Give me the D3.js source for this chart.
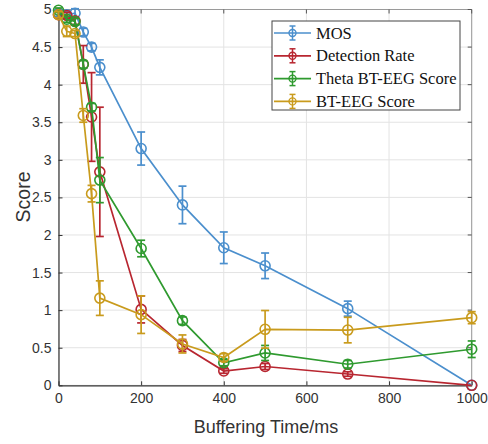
<!DOCTYPE html>
<html>
<head>
<meta charset="utf-8">
<script src="https://cdn.jsdelivr.net/npm/d3@7"></script>
<style>
body{margin:0;background:#fff;}
svg{display:block;}
</style>
</head>
<body>
<svg id="chart" width="488" height="444"></svg>
<script>
const xValues = [0, 20, 40, 60, 80, 100, 200, 300, 400, 500, 700, 1000];
const mosValues = [4.95, 4.93, 4.95, 4.70, 4.50, 4.23, 3.15, 2.40, 1.83, 1.59, 1.02, 0.00];
const mosErr    = [0.04, 0.04, 0.06, 0.05, 0.05, 0.10, 0.22, 0.25, 0.21, 0.17, 0.10, 0.00];
const detValues = [4.93, 4.92, 4.85, 4.27, 3.57, 2.84, 1.01, 0.53, 0.19, 0.25, 0.15, 0.00];
const detErr    = [0.04, 0.04, 0.05, 0.25, 0.59, 0.86, 0.18, 0.08, 0.03, 0.04, 0.03, 0.00];
const thetaValues = [4.99, 4.87, 4.84, 4.27, 3.70, 2.73, 1.82, 0.86, 0.30, 0.43, 0.28, 0.48];
const thetaErr    = [0.03, 0.04, 0.04, 0.05, 0.05, 0.30, 0.11, 0.05, 0.04, 0.10, 0.05, 0.11];
const btValues = [4.93, 4.71, 4.68, 3.59, 2.55, 1.16, 0.94, 0.55, 0.37, 0.745, 0.735, 0.90];
const btErr    = [0.04, 0.07, 0.04, 0.09, 0.11, 0.23, 0.25, 0.12, 0.05, 0.25, 0.17, 0.08];
const seriesNames = ["MOS", "Detection Rate", "Theta BT-EEG Score", "BT-EEG Score"];
const xTicks = [0, 200, 400, 600, 800, 1000];
const yTicks = [0, 0.5, 1, 1.5, 2, 2.5, 3, 3.5, 4, 4.5, 5];

const colors = ["#4b8fcd", "#b82630", "#2f9a2f", "#c99b1d"];
const series = [
  {name: seriesNames[0], v: mosValues, e: mosErr},
  {name: seriesNames[1], v: detValues, e: detErr},
  {name: seriesNames[2], v: thetaValues, e: thetaErr},
  {name: seriesNames[3], v: btValues, e: btErr}
];

const svg = d3.select("#chart");
const L = 58.5, R = 471.7, T = 9.5, B = 385.3;
const x = d3.scaleLinear().domain([0, 1000]).range([L, R]);
const y = d3.scaleLinear().domain([0, 5]).range([B, T]);

// grid
const g = svg.append("g");
g.selectAll(".gx").data(xTicks).join("line")
  .attr("x1", d => x(d)).attr("x2", d => x(d)).attr("y1", T).attr("y2", B)
  .attr("stroke", "#e3e3e3").attr("stroke-width", 1);
g.selectAll(".gy").data(yTicks).join("line")
  .attr("x1", L).attr("x2", R).attr("y1", d => y(d)).attr("y2", d => y(d))
  .attr("stroke", "#e3e3e3").attr("stroke-width", 1);

// box
svg.append("line").attr("x1", L).attr("x2", R).attr("y1", T).attr("y2", T).attr("stroke", "#9a9a9a");
svg.append("line").attr("x1", R).attr("x2", R).attr("y1", T).attr("y2", B).attr("stroke", "#9a9a9a");
// top/right inward ticks
svg.selectAll(".tt").data(xTicks).join("line")
  .attr("x1", d => x(d)).attr("x2", d => x(d)).attr("y1", T).attr("y2", T + 4).attr("stroke", "#555");
svg.selectAll(".rt").data(yTicks).join("line")
  .attr("x1", R).attr("x2", R - 4).attr("y1", d => y(d)).attr("y2", d => y(d)).attr("stroke", "#555");

// axes
const xAxis = d3.axisBottom(x).tickValues(xTicks).tickSizeInner(-4).tickSizeOuter(0).tickPadding(8).tickFormat(d3.format("d"));
const yAxis = d3.axisLeft(y).tickValues(yTicks).tickSizeInner(-4).tickSizeOuter(0).tickPadding(7).tickFormat(d3.format("~g"));
const gx = svg.append("g").attr("transform", `translate(0,${B})`).call(xAxis);
const gy = svg.append("g").attr("transform", `translate(${L},0)`).call(yAxis);
[gx, gy].forEach(a => {
  a.select(".domain").attr("stroke", "#333").attr("stroke-width", 1.2);
  a.selectAll(".tick line").attr("stroke", "#333");
  a.selectAll("text").attr("font-family", "Liberation Sans, Arial, sans-serif").attr("font-size", 14).attr("fill", "#333");
});

// series
const line = d3.line().x(d => x(d[0])).y(d => y(d[1]));
series.forEach((s, i) => {
  const pts = xValues.map((xv, j) => [xv, s.v[j], s.e[j]]);
  const sg = svg.append("g");
  sg.append("path").datum(pts).attr("d", line).attr("fill", "none")
    .attr("stroke", colors[i]).attr("stroke-width", 1.7);
  const eb = sg.selectAll(".eb").data(pts.filter(p => p[2] > 0)).join("g");
  eb.append("line").attr("x1", d => x(d[0])).attr("x2", d => x(d[0]))
    .attr("y1", d => y(d[1] - d[2])).attr("y2", d => y(d[1] + d[2]))
    .attr("stroke", colors[i]).attr("stroke-width", 1.7);
  eb.append("line").attr("x1", d => x(d[0]) - 4).attr("x2", d => x(d[0]) + 4)
    .attr("y1", d => y(d[1] - d[2])).attr("y2", d => y(d[1] - d[2]))
    .attr("stroke", colors[i]).attr("stroke-width", 1.7);
  eb.append("line").attr("x1", d => x(d[0]) - 4).attr("x2", d => x(d[0]) + 4)
    .attr("y1", d => y(d[1] + d[2])).attr("y2", d => y(d[1] + d[2]))
    .attr("stroke", colors[i]).attr("stroke-width", 1.7);
  sg.selectAll("circle").data(pts).join("circle")
    .attr("cx", d => x(d[0])).attr("cy", d => y(d[1])).attr("r", 5)
    .attr("fill", "none").attr("stroke", colors[i]).attr("stroke-width", 1.6);
});

// axis titles
svg.append("text").attr("x", 266).attr("y", 433).attr("text-anchor", "middle")
  .attr("font-family", "Liberation Sans, Arial, sans-serif").attr("font-size", 18).attr("fill", "#333")
  .text("Buffering Time/ms");
svg.append("text").attr("transform", `translate(30,${197}) rotate(-90)`).attr("text-anchor", "middle")
  .attr("font-family", "Liberation Sans, Arial, sans-serif").attr("font-size", 19.5).attr("fill", "#333")
  .text("Score");

// legend
const lg = svg.append("g");
lg.append("rect").attr("x", 272).attr("y", 21).attr("width", 188).attr("height", 89)
  .attr("fill", "#fff").attr("stroke", "#444").attr("stroke-width", 1);
series.forEach((s, i) => {
  const yy = 33 + i * 22.8;
  lg.append("line").attr("x1", 274).attr("x2", 311).attr("y1", yy).attr("y2", yy)
    .attr("stroke", colors[i]).attr("stroke-width", 1.7);
  lg.append("line").attr("x1", 292.5).attr("x2", 292.5).attr("y1", yy - 7).attr("y2", yy + 7)
    .attr("stroke", colors[i]).attr("stroke-width", 1.5);
  lg.append("line").attr("x1", 289.5).attr("x2", 295.5).attr("y1", yy - 7).attr("y2", yy - 7)
    .attr("stroke", colors[i]).attr("stroke-width", 1.5);
  lg.append("line").attr("x1", 289.5).attr("x2", 295.5).attr("y1", yy + 7).attr("y2", yy + 7)
    .attr("stroke", colors[i]).attr("stroke-width", 1.5);
  lg.append("circle").attr("cx", 292.5).attr("cy", yy).attr("r", 3.5)
    .attr("fill", "none").attr("stroke", colors[i]).attr("stroke-width", 1.4);
  lg.append("text").attr("x", 316).attr("y", yy + 5.5)
    .attr("font-family", "Liberation Serif, Times New Roman, serif").attr("font-size", 16.5).attr("fill", "#111")
    .text(s.name);
});
</script>
</body>
</html>
